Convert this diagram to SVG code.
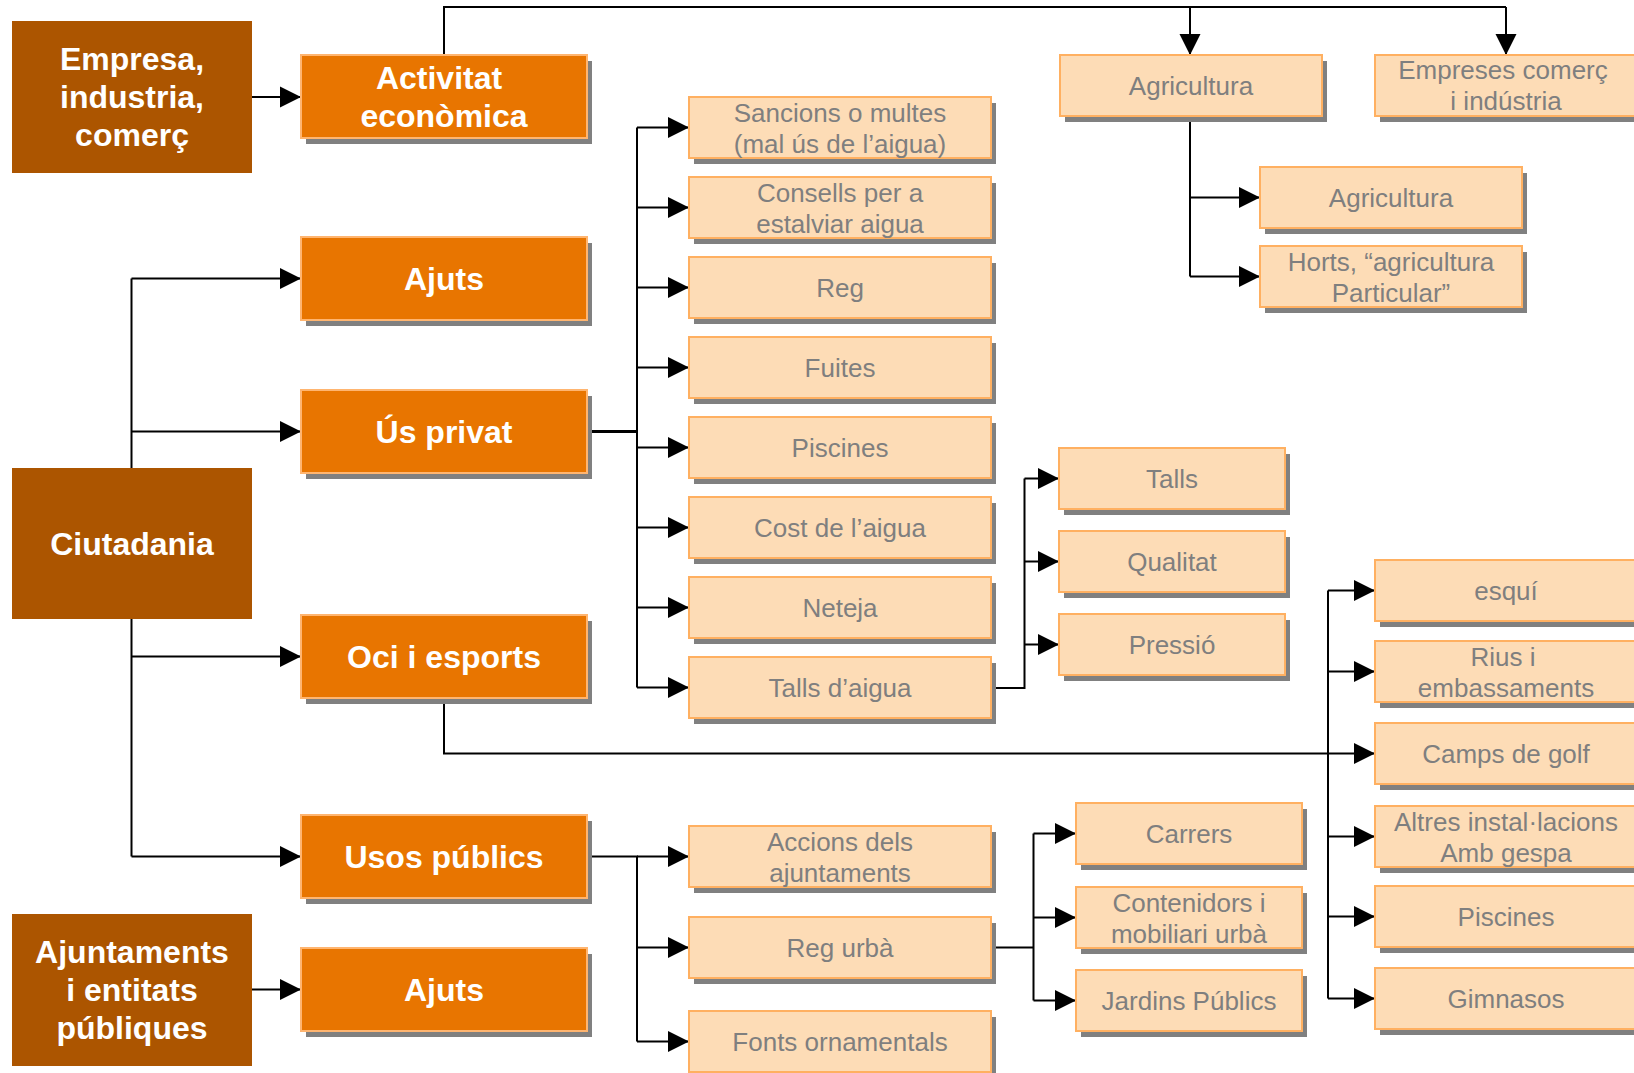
<svg xmlns="http://www.w3.org/2000/svg" width="1634" height="1073" viewBox="0 0 1634 1073">
<defs>
<marker id="arr" markerUnits="userSpaceOnUse" markerWidth="22" markerHeight="22" refX="21" refY="10.5" orient="auto" viewBox="0 0 22 21">
<path d="M0,0 L21,10.5 L0,21 z" fill="#000"/>
</marker>
</defs>
<style>
.brown{fill:#AC5500;}
.org{fill:#E87500;stroke:#FFB570;stroke-width:2;}
.lt{fill:#FDDCB6;stroke:#FFB061;stroke-width:2;}
.sh{fill:#808080;}
.bt{font-family:"Liberation Sans",Arial,sans-serif;font-weight:bold;font-size:32px;fill:#fff;text-anchor:middle;}
.lt-t{font-family:"Liberation Sans",Arial,sans-serif;font-size:26px;fill:#7F7F7F;text-anchor:middle;}
.c{fill:none;stroke:#000;stroke-width:2;}
.ca{fill:none;stroke:#000;stroke-width:2;marker-end:url(#arr);}
</style>
<rect width="1634" height="1073" fill="#fff"/>

<g id="connectors">
<path class="ca" d="M251,97 H301"/>
<path class="c" d="M444,55 V7 H1506"/>
<path class="ca" d="M1506,7 V55"/>
<path class="ca" d="M1190,7 V55"/>
<path class="c" d="M1190,116 V276.5"/>
<path class="ca" d="M1190,197.5 H1260"/>
<path class="ca" d="M1190,276.5 H1260"/>
<path class="c" d="M131.5,468 V278.5"/>
<path class="ca" d="M131.5,278.5 H301"/>
<path class="ca" d="M131.5,431.5 H301"/>
<path class="c" d="M131.5,619 V856.5"/>
<path class="ca" d="M131.5,856.5 H301"/>
<path class="ca" d="M131.5,656.5 H301"/>
<path class="c" d="M587,431.5 H637" style="stroke-width:3"/>
<path class="c" d="M637,127.5 V687.5"/>
<path class="ca" d="M637,127.5 H689"/>
<path class="ca" d="M637,207.5 H689"/>
<path class="ca" d="M637,287.5 H689"/>
<path class="ca" d="M637,367.5 H689"/>
<path class="ca" d="M637,447.5 H689"/>
<path class="ca" d="M637,527.5 H689"/>
<path class="ca" d="M637,607.5 H689"/>
<path class="ca" d="M637,687.5 H689"/>
<path class="c" d="M991,688 H1024.5 V478.5"/>
<path class="ca" d="M1024.5,478.5 H1059"/>
<path class="ca" d="M1024.5,561.5 H1059"/>
<path class="ca" d="M1024.5,644.5 H1059"/>
<path class="c" d="M444,698 V753.5 H1328"/>
<path class="c" d="M1328,590.5 V998.5"/>
<path class="ca" d="M1328,590.5 H1375"/>
<path class="ca" d="M1328,671.5 H1375"/>
<path class="ca" d="M1328,753.5 H1375"/>
<path class="ca" d="M1328,836.5 H1375"/>
<path class="ca" d="M1328,916.5 H1375"/>
<path class="ca" d="M1328,998.5 H1375"/>
<path class="c" d="M587,856.5 H637 V1041.5"/>
<path class="ca" d="M637,856.5 H689"/>
<path class="ca" d="M637,947.5 H689"/>
<path class="ca" d="M637,1041.5 H689"/>
<path class="c" d="M991,947.5 H1033.5"/>
<path class="c" d="M1033.5,833.5 V1000.5"/>
<path class="ca" d="M1033.5,833.5 H1076"/>
<path class="ca" d="M1033.5,917.5 H1076"/>
<path class="ca" d="M1033.5,1000.5 H1076"/>
<path class="ca" d="M251,989.5 H301"/>
</g>

<g id="empresa"><rect class="brown" x="12" y="21" width="240" height="152"/>
<text class="bt" x="132" y="70">Empresa,</text><text class="bt" x="132" y="108">industria,</text><text class="bt" x="132" y="146">comerç</text></g>
<g id="ciutadania"><rect class="brown" x="12" y="468" width="240" height="151"/>
<text class="bt" x="132" y="555">Ciutadania</text></g>
<g id="ajuntaments"><rect class="brown" x="12" y="914" width="240" height="152"/>
<text class="bt" x="132" y="963">Ajuntaments</text><text class="bt" x="132" y="1001">i entitats</text><text class="bt" x="132" y="1039">públiques</text></g>

<g id="activitat"><rect class="sh" x="306" y="61" width="286" height="83"/><rect class="org" x="301" y="55" width="286" height="83"/>
<text class="bt" x="439" y="89">Activitat</text><text class="bt" x="444" y="127">econòmica</text></g>
<g id="ajuts1"><rect class="sh" x="306" y="243" width="286" height="83"/><rect class="org" x="301" y="237" width="286" height="83"/>
<text class="bt" x="444" y="290">Ajuts</text></g>
<g id="usprivat"><rect class="sh" x="306" y="396" width="286" height="83"/><rect class="org" x="301" y="390" width="286" height="83"/>
<text class="bt" x="444" y="443">Ús privat</text></g>
<g id="oci"><rect class="sh" x="306" y="621" width="286" height="83"/><rect class="org" x="301" y="615" width="286" height="83"/>
<text class="bt" x="444" y="668">Oci i esports</text></g>
<g id="usospublics"><rect class="sh" x="306" y="821" width="286" height="83"/><rect class="org" x="301" y="815" width="286" height="83"/>
<text class="bt" x="444" y="868">Usos públics</text></g>
<g id="ajuts2"><rect class="sh" x="306" y="954" width="286" height="83"/><rect class="org" x="301" y="948" width="286" height="83"/>
<text class="bt" x="444" y="1001">Ajuts</text></g>

<g id="sancions"><rect class="sh" x="694" y="103" width="302" height="61"/><rect class="lt" x="689" y="97" width="302" height="61"/>
<text class="lt-t" x="840" y="122">Sancions o multes</text><text class="lt-t" x="840" y="153">(mal ús de l’aigua)</text></g>
<g id="consells"><rect class="sh" x="694" y="183" width="302" height="61"/><rect class="lt" x="689" y="177" width="302" height="61"/>
<text class="lt-t" x="840" y="202">Consells per a</text><text class="lt-t" x="840" y="233">estalviar aigua</text></g>
<g id="reg"><rect class="sh" x="694" y="263" width="302" height="61"/><rect class="lt" x="689" y="257" width="302" height="61"/>
<text class="lt-t" x="840" y="297">Reg</text></g>
<g id="fuites"><rect class="sh" x="694" y="343" width="302" height="61"/><rect class="lt" x="689" y="337" width="302" height="61"/>
<text class="lt-t" x="840" y="377">Fuites</text></g>
<g id="piscines1"><rect class="sh" x="694" y="423" width="302" height="61"/><rect class="lt" x="689" y="417" width="302" height="61"/>
<text class="lt-t" x="840" y="457">Piscines</text></g>
<g id="cost"><rect class="sh" x="694" y="503" width="302" height="61"/><rect class="lt" x="689" y="497" width="302" height="61"/>
<text class="lt-t" x="840" y="537">Cost de l’aigua</text></g>
<g id="neteja"><rect class="sh" x="694" y="583" width="302" height="61"/><rect class="lt" x="689" y="577" width="302" height="61"/>
<text class="lt-t" x="840" y="617">Neteja</text></g>
<g id="tallsaigua"><rect class="sh" x="694" y="663" width="302" height="61"/><rect class="lt" x="689" y="657" width="302" height="61"/>
<text class="lt-t" x="840" y="697">Talls d’aigua</text></g>

<g id="accions"><rect class="sh" x="694" y="832" width="302" height="61"/><rect class="lt" x="689" y="826" width="302" height="61"/>
<text class="lt-t" x="840" y="851">Accions dels</text><text class="lt-t" x="840" y="882">ajuntaments</text></g>
<g id="regurba"><rect class="sh" x="694" y="923" width="302" height="61"/><rect class="lt" x="689" y="917" width="302" height="61"/>
<text class="lt-t" x="840" y="957">Reg urbà</text></g>
<g id="fonts"><rect class="sh" x="694" y="1017" width="302" height="61"/><rect class="lt" x="689" y="1011" width="302" height="61"/>
<text class="lt-t" x="840" y="1051">Fonts ornamentals</text></g>

<g id="agricultura"><rect class="sh" x="1065" y="61" width="262" height="61"/><rect class="lt" x="1060" y="55" width="262" height="61"/>
<text class="lt-t" x="1191" y="95">Agricultura</text></g>
<g id="empreses"><rect class="sh" x="1380" y="61" width="262" height="61"/><rect class="lt" x="1375" y="55" width="262" height="61"/>
<text class="lt-t" x="1503" y="79">Empreses comerç</text><text class="lt-t" x="1506" y="110">i indústria</text></g>
<g id="agricultura2"><rect class="sh" x="1265" y="173" width="262" height="61"/><rect class="lt" x="1260" y="167" width="262" height="61"/>
<text class="lt-t" x="1391" y="207">Agricultura</text></g>
<g id="horts"><rect class="sh" x="1265" y="252" width="262" height="61"/><rect class="lt" x="1260" y="246" width="262" height="61"/>
<text class="lt-t" x="1391" y="271">Horts, “agricultura</text><text class="lt-t" x="1391" y="302">Particular”</text></g>

<g id="talls"><rect class="sh" x="1064" y="454" width="226" height="61"/><rect class="lt" x="1059" y="448" width="226" height="61"/>
<text class="lt-t" x="1172" y="488">Talls</text></g>
<g id="qualitat"><rect class="sh" x="1064" y="537" width="226" height="61"/><rect class="lt" x="1059" y="531" width="226" height="61"/>
<text class="lt-t" x="1172" y="571">Qualitat</text></g>
<g id="pressio"><rect class="sh" x="1064" y="620" width="226" height="61"/><rect class="lt" x="1059" y="614" width="226" height="61"/>
<text class="lt-t" x="1172" y="654">Pressió</text></g>

<g id="carrers"><rect class="sh" x="1081" y="809" width="226" height="61"/><rect class="lt" x="1076" y="803" width="226" height="61"/>
<text class="lt-t" x="1189" y="843">Carrers</text></g>
<g id="contenidors"><rect class="sh" x="1081" y="893" width="226" height="61"/><rect class="lt" x="1076" y="887" width="226" height="61"/>
<text class="lt-t" x="1189" y="912">Contenidors i</text><text class="lt-t" x="1189" y="943">mobiliari urbà</text></g>
<g id="jardins"><rect class="sh" x="1081" y="976" width="226" height="61"/><rect class="lt" x="1076" y="970" width="226" height="61"/>
<text class="lt-t" x="1189" y="1010">Jardins Públics</text></g>

<g id="esqui"><rect class="sh" x="1380" y="566" width="262" height="61"/><rect class="lt" x="1375" y="560" width="262" height="61"/>
<text class="lt-t" x="1506" y="600">esquí</text></g>
<g id="rius"><rect class="sh" x="1380" y="647" width="262" height="61"/><rect class="lt" x="1375" y="641" width="262" height="61"/>
<text class="lt-t" x="1503" y="666">Rius i</text><text class="lt-t" x="1506" y="697">embassaments</text></g>
<g id="golf"><rect class="sh" x="1380" y="729" width="262" height="61"/><rect class="lt" x="1375" y="723" width="262" height="61"/>
<text class="lt-t" x="1506" y="763">Camps de golf</text></g>
<g id="altres"><rect class="sh" x="1380" y="812" width="262" height="61"/><rect class="lt" x="1375" y="806" width="262" height="61"/>
<text class="lt-t" x="1506" y="831">Altres instal·lacions</text><text class="lt-t" x="1506" y="862">Amb gespa</text></g>
<g id="piscines2"><rect class="sh" x="1380" y="892" width="262" height="61"/><rect class="lt" x="1375" y="886" width="262" height="61"/>
<text class="lt-t" x="1506" y="926">Piscines</text></g>
<g id="gimnasos"><rect class="sh" x="1380" y="974" width="262" height="61"/><rect class="lt" x="1375" y="968" width="262" height="61"/>
<text class="lt-t" x="1506" y="1008">Gimnasos</text></g>
</svg>
